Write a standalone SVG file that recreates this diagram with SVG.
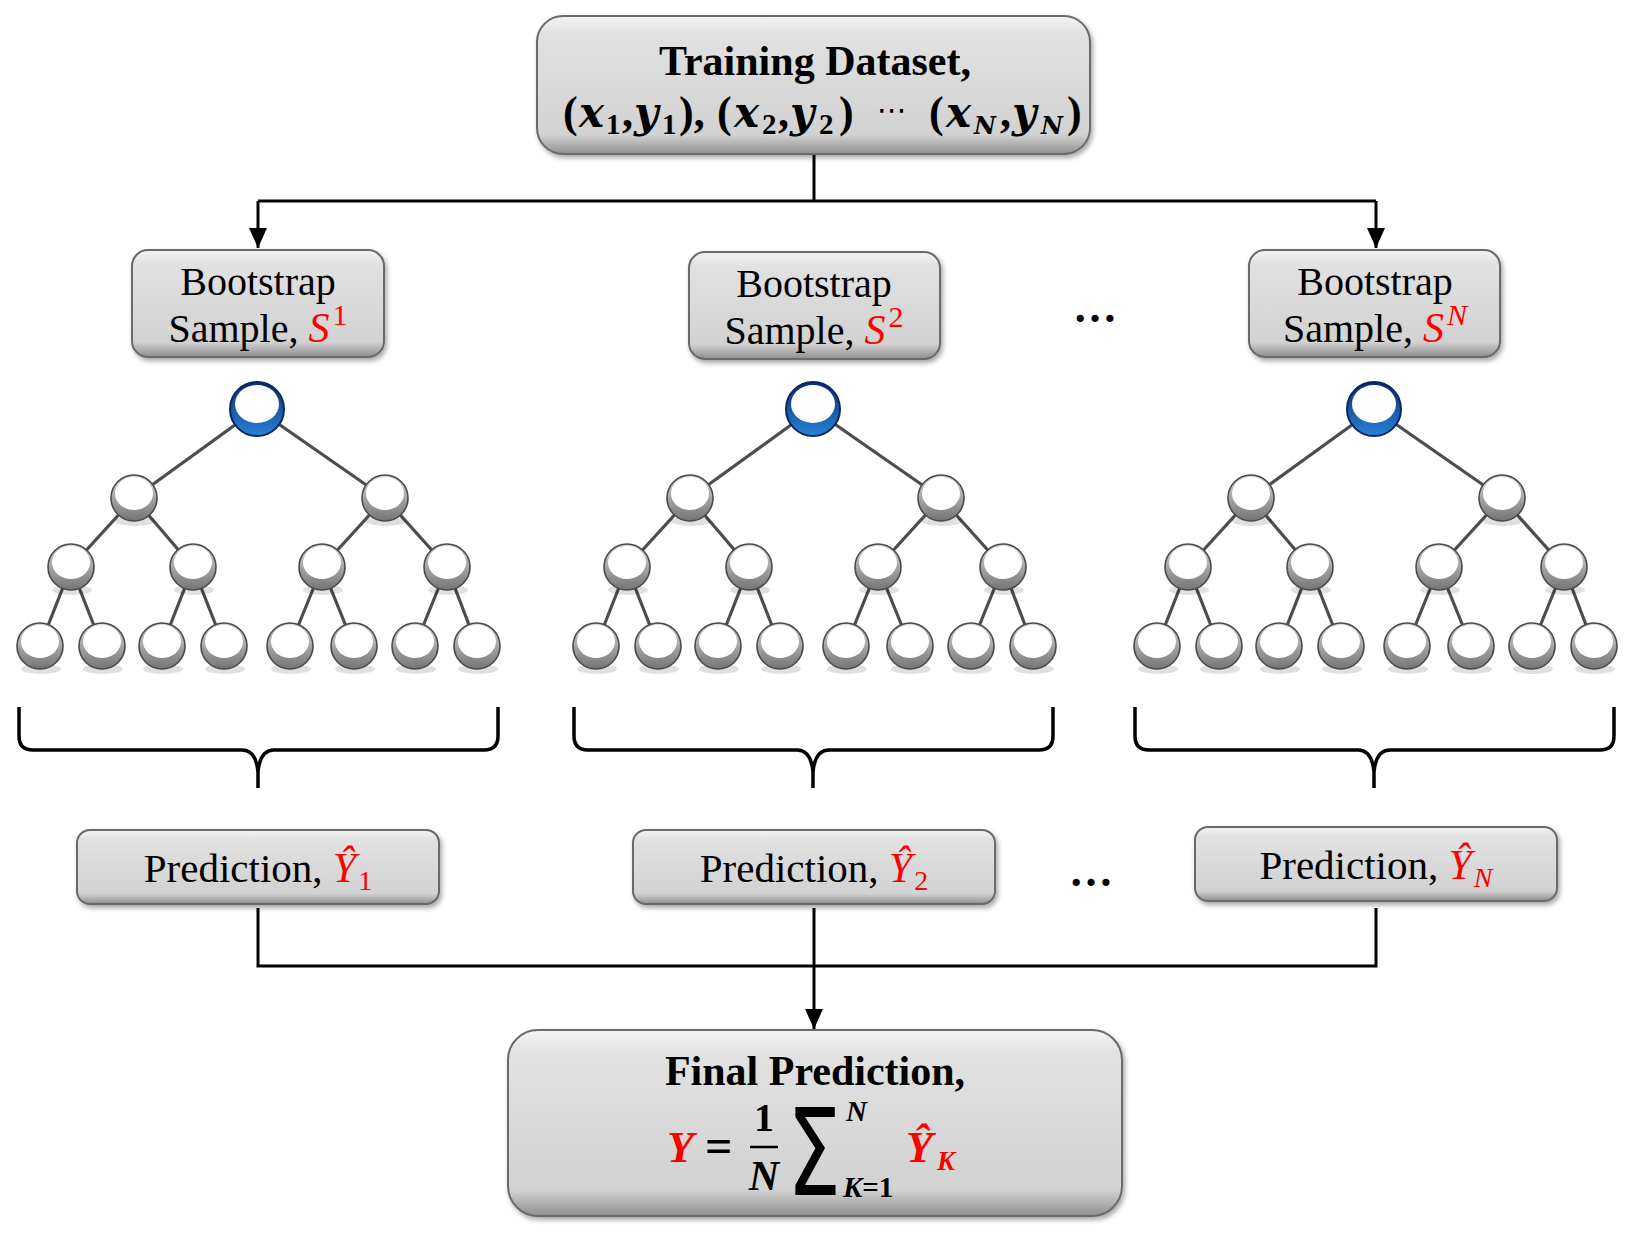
<svg xmlns="http://www.w3.org/2000/svg" xmlns:xlink="http://www.w3.org/1999/xlink" width="1636" height="1233" viewBox="0 0 1636 1233">
<style>
.box{fill:url(#boxg);stroke:#6a6a6a;stroke-width:2;filter:url(#sh)}
.t{font-family:"Liberation Serif","Times New Roman",serif;fill:#000}
.b{font-weight:bold}
.i{font-style:italic}
.m{font-family:"DejaVu Serif",serif;font-style:italic;font-weight:bold}
.red{fill:#ff0000}
.conn{stroke:#000;stroke-width:3;fill:none}
.brace{stroke:#000;stroke-width:3.5;fill:none;stroke-linejoin:round}
.edge{stroke:#4d4d4d;stroke-width:3.2}
</style>
<defs>
<linearGradient id="boxg" x1="0" y1="0" x2="0" y2="1">
<stop offset="0" stop-color="#f4f4f4"/>
<stop offset="0.12" stop-color="#e2e2e2"/>
<stop offset="0.5" stop-color="#d9d9d9"/>
<stop offset="0.86" stop-color="#d2d2d2"/>
<stop offset="1" stop-color="#8e8e8e"/>
</linearGradient>
<linearGradient id="ng" x1="0" y1="0" x2="0" y2="1">
<stop offset="0" stop-color="#d8d8d8"/>
<stop offset="1" stop-color="#747474"/>
</linearGradient>
<linearGradient id="bg" x1="0" y1="0" x2="0" y2="1">
<stop offset="0" stop-color="#072c75"/>
<stop offset="1" stop-color="#2a82d4"/>
</linearGradient>
<filter id="sh" x="-10%" y="-10%" width="120%" height="130%">
<feDropShadow dx="2" dy="3" stdDeviation="2.5" flood-color="#000" flood-opacity="0.35"/>
</filter>
<marker id="arr" markerWidth="20" markerHeight="18" refX="20" refY="9" orient="auto" markerUnits="userSpaceOnUse">
<path d="M0,0 L20,9 L0,18 Z" fill="#000"/>
</marker>
<g id="node">
<ellipse cx="1" cy="23" rx="20" ry="5" fill="#000" opacity="0.12"/>
<circle r="23" fill="url(#ng)" stroke="#4a4a4a" stroke-width="1.6"/>
<ellipse cx="0" cy="-4.5" rx="19" ry="16.5" fill="#fff"/>
</g>
<g id="rootnode">
<circle r="27" fill="url(#bg)" stroke="#0a2660" stroke-width="2"/>
<ellipse cx="0" cy="-5" rx="22" ry="19" fill="#fff"/>
</g>
<g id="tree">
<g class="edge">
<line x1="257" y1="409" x2="134" y2="498"/>
<line x1="257" y1="409" x2="385" y2="498"/>
<line x1="134" y1="498" x2="71" y2="567"/>
<line x1="134" y1="498" x2="193" y2="567"/>
<line x1="385" y1="498" x2="322" y2="567"/>
<line x1="385" y1="498" x2="447" y2="567"/>
<line x1="71" y1="567" x2="40" y2="646"/>
<line x1="71" y1="567" x2="102" y2="646"/>
<line x1="193" y1="567" x2="162" y2="646"/>
<line x1="193" y1="567" x2="224" y2="646"/>
<line x1="322" y1="567" x2="290" y2="646"/>
<line x1="322" y1="567" x2="354" y2="646"/>
<line x1="447" y1="567" x2="415" y2="646"/>
<line x1="447" y1="567" x2="477" y2="646"/>
</g>
<use href="#rootnode" x="257" y="409"/>
<use href="#node" x="134" y="498"/>
<use href="#node" x="385" y="498"/>
<use href="#node" x="71" y="567"/>
<use href="#node" x="193" y="567"/>
<use href="#node" x="322" y="567"/>
<use href="#node" x="447" y="567"/>
<use href="#node" x="40" y="646"/>
<use href="#node" x="102" y="646"/>
<use href="#node" x="162" y="646"/>
<use href="#node" x="224" y="646"/>
<use href="#node" x="290" y="646"/>
<use href="#node" x="354" y="646"/>
<use href="#node" x="415" y="646"/>
<use href="#node" x="477" y="646"/>
</g>
<path id="bracep" d="M19,707 L19,736 Q19,750 33,750 L242,750 Q256,750 258,772 L258,788 M258,788 L258,772 Q260,750 274,750 L484,750 Q498,750 498,736 L498,707"/>
</defs>
<rect width="1636" height="1233" fill="#fff"/>

<g id="connectors">
<path class="conn" d="M814,154 L814,201"/>
<path class="conn" d="M258,201 L1376,201"/>
<path class="conn" d="M258,201 L258,248" marker-end="url(#arr)"/>
<path class="conn" d="M1376,201 L1376,248" marker-end="url(#arr)"/>
<path class="conn" d="M258,908 L258,966 L1376,966 L1376,908"/>
<path class="conn" d="M814,908 L814,1029" marker-end="url(#arr)"/>
</g>

<g id="braces">
<use href="#bracep" class="brace"/>
<use href="#bracep" class="brace" transform="translate(555,0)"/>
<use href="#bracep" class="brace" transform="translate(1116,0)"/>
</g>

<g id="trees">
<use id="tree1" href="#tree"/>
<use id="tree2" href="#tree" transform="translate(556,0)"/>
<use id="tree3" href="#tree" transform="translate(1117,0)"/>
</g>

<g id="training">
<rect class="box" x="537" y="16" width="553" height="138" rx="26"/>
<text class="t b" x="815" y="75" font-size="42" text-anchor="middle">Training Dataset,</text>
<text class="t b" y="127" font-size="44"><tspan x="563">(</tspan><tspan class="m" font-size="42" x="579">x</tspan><tspan font-size="29" x="606" y="134">1</tspan><tspan x="622" y="127">,</tspan><tspan class="m" font-size="42" x="634">y</tspan><tspan font-size="29" x="662" y="134">1</tspan><tspan x="679" y="127">),</tspan><tspan x="717">(</tspan><tspan class="m" font-size="42" x="734">x</tspan><tspan font-size="29" x="762" y="134">2</tspan><tspan x="778" y="127">,</tspan><tspan class="m" font-size="42" x="790">y</tspan><tspan font-size="29" x="819" y="134">2</tspan><tspan x="839" y="127">)</tspan><tspan font-family="DejaVu Sans,sans-serif" font-weight="normal" font-size="30" x="877" y="120">⋯</tspan><tspan x="929" y="127">(</tspan><tspan class="m" font-size="42" x="946">x</tspan><tspan class="m" font-size="24" x="974" y="134">N</tspan><tspan x="1000" y="127">,</tspan><tspan class="m" font-size="42" x="1012">y</tspan><tspan class="m" font-size="24" x="1041" y="134">N</tspan><tspan x="1067" y="127">)</tspan></text>
</g>

<g id="boot1">
<rect class="box" x="132" y="250" width="252" height="107" rx="16"/>
<text class="t" x="258" y="295" font-size="40" text-anchor="middle">Bootstrap</text>
<text class="t" x="258" y="342" font-size="40" text-anchor="middle">Sample, <tspan class="i red" font-size="42">S</tspan><tspan class="red" font-size="30" dx="3" dy="-17">1</tspan></text>
</g>
<g id="boot2">
<rect class="box" x="689" y="252" width="251" height="107" rx="16"/>
<text class="t" x="814" y="297" font-size="40" text-anchor="middle">Bootstrap</text>
<text class="t" x="814" y="344" font-size="40" text-anchor="middle">Sample, <tspan class="i red" font-size="42">S</tspan><tspan class="red" font-size="30" dx="3" dy="-17">2</tspan></text>
</g>
<g id="boot3">
<rect class="box" x="1249" y="250" width="251" height="107" rx="16"/>
<text class="t" x="1375" y="295" font-size="40" text-anchor="middle">Bootstrap</text>
<text class="t" x="1375" y="342" font-size="40" text-anchor="middle">Sample, <tspan class="i red" font-size="42">S</tspan><tspan class="i red" font-size="30" dx="3" dy="-17">N</tspan></text>
</g>
<text id="dots1" class="t b" x="1096" y="322" font-size="44" text-anchor="middle" letter-spacing="2">…</text>

<g id="pred1">
<rect class="box" x="77" y="830" width="362" height="74" rx="13"/>
<text class="t" x="258" y="882" font-size="41" text-anchor="middle">Prediction, <tspan class="i red" font-size="42">Ŷ</tspan><tspan class="red" font-size="28" dx="2" dy="8">1</tspan></text>
</g>
<g id="pred2">
<rect class="box" x="633" y="830" width="362" height="74" rx="13"/>
<text class="t" x="814" y="882" font-size="41" text-anchor="middle">Prediction, <tspan class="i red" font-size="42">Ŷ</tspan><tspan class="red" font-size="28" dx="2" dy="8">2</tspan></text>
</g>
<g id="pred3">
<rect class="box" x="1195" y="827" width="362" height="74" rx="13"/>
<text class="t" x="1376" y="879" font-size="41" text-anchor="middle">Prediction, <tspan class="i red" font-size="42">Ŷ</tspan><tspan class="i red" font-size="28" dx="2" dy="8">N</tspan></text>
</g>
<text id="dots2" class="t b" x="1092" y="886" font-size="44" text-anchor="middle" letter-spacing="2">…</text>

<g id="final">
<rect class="box" x="508" y="1030" width="614" height="186" rx="30"/>
<text class="t b" x="815" y="1085" font-size="42" text-anchor="middle">Final Prediction,</text>
<text class="t b i red" x="667" y="1162" font-size="44">Y</text>
<text class="t b" x="705" y="1162" font-size="48">=</text>
<text class="t b" x="764" y="1131" font-size="40" text-anchor="middle">1</text>
<line x1="750" y1="1147" x2="778" y2="1147" stroke="#000" stroke-width="2.5"/>
<text class="t b i" x="764" y="1190" font-size="42" text-anchor="middle">N</text>
<text transform="translate(787,1195) scale(0.95,1.35)" font-family="DejaVu Sans,sans-serif" font-size="90">Σ</text>
<text class="t b i" x="846" y="1121" font-size="29">N</text>
<text class="t b" x="843" y="1197" font-size="29"><tspan class="i">K</tspan>=1</text>
<text class="t b i red" x="906" y="1162" font-size="44">Ŷ</text>
<text class="t b i red" x="937" y="1170" font-size="27">K</text>
</g>
</svg>
